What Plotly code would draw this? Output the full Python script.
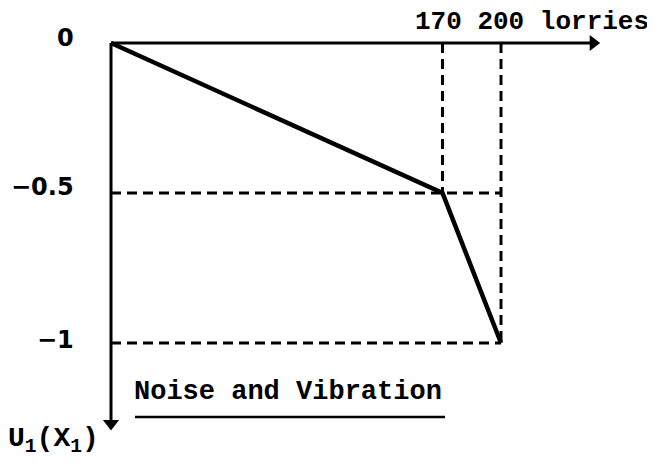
import plotly.graph_objects as go

# Data
lorries = [0, 170, 200]
utility = [0, -0.5, -1]
y_ticks = [0, -0.5, -1]
y_tick_labels = ["0", "−0.5", "−1"]
x_unit = "lorries"
title_text = "Noise and Vibration"
y_axis_label = "U<sub>1</sub>(X<sub>1</sub>)"

# page body has an 8px margin; calibrate so origin lands at (111, 43) in the window
PXX, PXY = 1.95, 300.0
OX, OY = 103, 35
W, H = 647, 460
x_range = [-OX / PXX, (W - OX) / PXX]
y_range = [-(H - OY) / PXY, OY / PXY]

fig = go.Figure()

# dashed guide lines
dash = dict(color="black", width=3, dash="10px,6px")
xmax = max(lorries)
for xv, yv in zip(lorries[1:], utility[1:]):
    fig.add_trace(go.Scatter(x=[xv, xv], y=[0, yv], mode="lines", line=dash,
                             hoverinfo="skip", showlegend=False))
    fig.add_trace(go.Scatter(x=[0, xmax], y=[yv, yv], mode="lines", line=dash,
                             hoverinfo="skip", showlegend=False))

# axes
x_tip = (592 - OX) / PXX
y_tip = -(422 - OY) / PXY
axis_line = dict(color="black", width=3)
fig.add_trace(go.Scatter(x=[0, x_tip - 4], y=[0, 0], mode="lines", line=axis_line,
                         hoverinfo="skip", showlegend=False))
fig.add_trace(go.Scatter(x=[0, 0], y=[0, y_tip + 0.015], mode="lines", line=axis_line,
                         hoverinfo="skip", showlegend=False))
fig.add_trace(go.Scatter(x=[x_tip - 3.5], y=[0], mode="markers",
                         marker=dict(symbol="triangle-right", size=14, color="black"),
                         hoverinfo="skip", showlegend=False))
fig.add_trace(go.Scatter(x=[0], y=[y_tip + 0.022], mode="markers",
                         marker=dict(symbol="triangle-down", size=14, color="black"),
                         hoverinfo="skip", showlegend=False))

# main utility curve
fig.add_trace(go.Scatter(x=lorries, y=utility, mode="lines",
                         line=dict(color="black", width=4.5), showlegend=False))

anns = []
# y tick labels
shifts = {0: 5, -0.5: 6, -1: 3}
for yv, lab in zip(y_ticks, y_tick_labels):
    anns.append(dict(x=0, y=yv, xref="x", yref="y", text=lab, showarrow=False,
                     xanchor="right", yanchor="middle", xshift=-35, yshift=shifts[yv],
                     font=dict(family="DejaVu Sans", size=24, color="black", weight="bold")))

mono = dict(family="Liberation Mono", color="black", weight="bold")
# top labels
anns.append(dict(x=lorries[1], y=0, xref="x", yref="y",
                 text=f"{lorries[1]} {lorries[2]} {x_unit}", showarrow=False,
                 xanchor="left", yanchor="bottom", xshift=-30, yshift=4,
                 font=dict(size=26, **mono)))
# title
anns.append(dict(x=11.0, y=-1.163, xref="x", yref="y", text=title_text, showarrow=False,
                 xanchor="left", yanchor="middle",
                 font=dict(size=27, **mono)))
# y label
anns.append(dict(x=-52.5, y=-1.325, xref="x", yref="y", text=y_axis_label, showarrow=False,
                 xanchor="left", yanchor="middle", xshift=-3,
                 font=dict(size=28, **mono)))

shapes = [dict(type="line", x0=12.3, x1=171.3, y0=-1.247, y1=-1.247, xref="x", yref="y",
               line=dict(color="black", width=2.5))]

fig.update_layout(
    width=W, height=H, margin=dict(l=0, r=0, t=0, b=0),
    paper_bgcolor="white", plot_bgcolor="white",
    xaxis=dict(range=x_range, visible=False, fixedrange=True),
    yaxis=dict(range=y_range, visible=False, fixedrange=True),
    annotations=anns, shapes=shapes,
)

fig.write_html("out.html")
